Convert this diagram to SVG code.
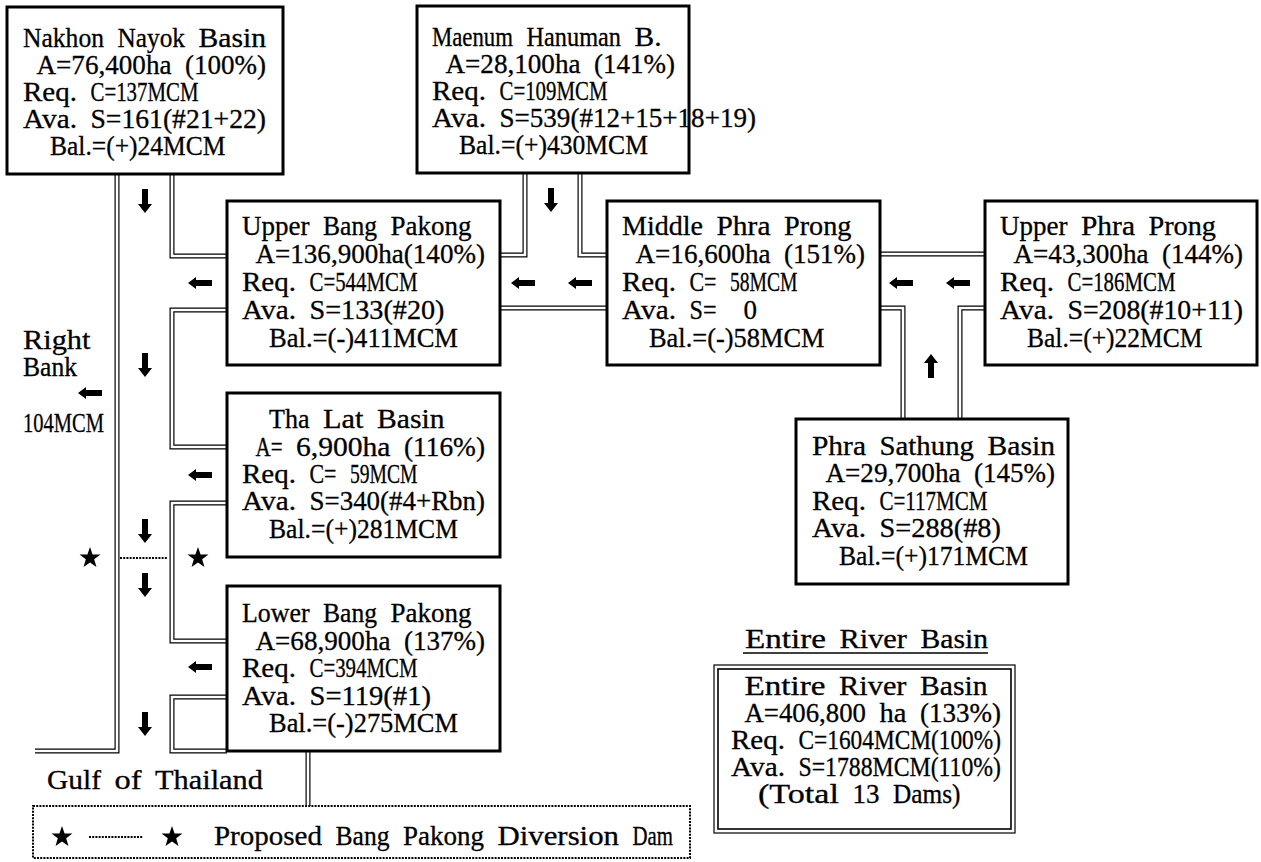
<svg xmlns="http://www.w3.org/2000/svg" width="1261" height="862" viewBox="0 0 1261 862">
<style>
.bx{fill:#fff;stroke:#000;stroke-width:3}
.ch{fill:none;stroke:#000;stroke-width:5}
.cw{fill:none;stroke:#fff;stroke-width:2.6}
.dot{fill:none;stroke:#000;stroke-width:2;stroke-dasharray:2 1.2}
text{font-family:"Liberation Serif","Times New Roman",serif;font-size:27px;fill:#000;stroke:#000;stroke-width:0.3}
</style>
<defs>
<path id="al" d="M-12,0 L-4,-6 V-3 H12 V3 H-4 V6 Z"/>
<path id="ad" d="M0,12 L-7,3 H-3 V-12 H3 V3 H7 Z"/>
<path id="au" d="M0,-12 L-7,-3 H-3 V12 H3 V-3 H7 Z"/>
<polygon id="st" points="0,-11 2.59,-3.56 10.46,-3.4 4.18,1.36 6.47,8.9 0,4.4 -6.47,8.9 -4.18,1.36 -10.46,-3.4 -2.59,-3.56"/>
</defs>
<rect width="1261" height="862" fill="#fff"/>
<g id="connectors">
<path class="ch" d="M117,175 V751 H35"/><path class="cw" d="M117,175 V751 H35"/>
<path class="ch" d="M172,175 V256 H227"/><path class="cw" d="M172,175 V256 H227"/>
<path class="ch" d="M227,310 H172 V447 H227"/><path class="cw" d="M227,310 H172 V447 H227"/>
<path class="ch" d="M227,503 H172 V641 H227"/><path class="cw" d="M227,503 H172 V641 H227"/>
<path class="ch" d="M227,697 H172 V751 H227"/><path class="cw" d="M227,697 H172 V751 H227"/>
<path class="ch" d="M525,174 V255 H500"/><path class="cw" d="M525,174 V255 H500"/>
<path class="ch" d="M580,174 V255 H607"/><path class="cw" d="M580,174 V255 H607"/>
<path class="ch" d="M500,308 H607"/><path class="cw" d="M500,308 H607"/>
<path class="ch" d="M880,254 H985"/><path class="cw" d="M880,254 H985"/>
<path class="ch" d="M880,308 H903 V419"/><path class="cw" d="M880,308 H903 V419"/>
<path class="ch" d="M985,308 H960 V419"/><path class="cw" d="M985,308 H960 V419"/>
<path class="ch" d="M308,752 V806"/><path class="cw" d="M308,752 V806"/>
<path class="dot" d="M120,558 H167"/>
<use href="#ad" x="145" y="201"/><use href="#ad" x="145" y="365"/><use href="#ad" x="145" y="531"/>
<use href="#ad" x="145" y="585"/><use href="#ad" x="145" y="724"/><use href="#ad" x="551" y="200"/>
<use href="#al" x="200" y="283"/><use href="#al" x="523" y="283"/><use href="#al" x="580" y="283"/>
<use href="#al" x="200" y="475"/><use href="#al" x="200" y="667"/><use href="#al" x="90" y="393"/>
<use href="#al" x="901" y="283"/><use href="#al" x="958" y="283"/>
<use href="#au" x="931" y="366"/>
<use href="#st" x="90" y="558"/><use href="#st" x="198" y="558"/>
</g>
<g id="nakhon-nayok">
<rect class="bx" x="7" y="7" width="276" height="167"/>
<g transform="scale(0.8,1)">
<text x="28.75" y="47" textLength="101.25" lengthAdjust="spacingAndGlyphs">Nakhon</text>
<text x="146.875" y="47" textLength="84.375" lengthAdjust="spacingAndGlyphs">Nayok</text>
<text x="248.125" y="47" textLength="84.375" lengthAdjust="spacingAndGlyphs">Basin</text>
<text x="45.625" y="74" textLength="168.75" lengthAdjust="spacingAndGlyphs">A=76,400ha</text>
<text x="231.25" y="74" textLength="101.25" lengthAdjust="spacingAndGlyphs">(100%)</text>
<text x="28.75" y="101" textLength="67.5" lengthAdjust="spacingAndGlyphs">Req.</text>
<text x="113.125" y="101" textLength="135" lengthAdjust="spacingAndGlyphs">C=137MCM</text>
<text x="28.75" y="128" textLength="67.5" lengthAdjust="spacingAndGlyphs">Ava.</text>
<text x="113.125" y="128" textLength="219.375" lengthAdjust="spacingAndGlyphs">S=161(#21+22)</text>
<text x="62.5" y="155" textLength="219.375" lengthAdjust="spacingAndGlyphs">Bal.=(+)24MCM</text>
</g>
</g>
<g id="maenum-hanuman">
<rect class="bx" x="417" y="6" width="272" height="167"/>
<g transform="scale(0.8,1)">
<text x="540" y="46" textLength="101.25" lengthAdjust="spacingAndGlyphs">Maenum</text>
<text x="658.125" y="46" textLength="118.125" lengthAdjust="spacingAndGlyphs">Hanuman</text>
<text x="793.125" y="46" textLength="33.75" lengthAdjust="spacingAndGlyphs">B.</text>
<text x="556.875" y="73" textLength="168.75" lengthAdjust="spacingAndGlyphs">A=28,100ha</text>
<text x="742.5" y="73" textLength="101.25" lengthAdjust="spacingAndGlyphs">(141%)</text>
<text x="540" y="100" textLength="67.5" lengthAdjust="spacingAndGlyphs">Req.</text>
<text x="624.375" y="100" textLength="135" lengthAdjust="spacingAndGlyphs">C=109MCM</text>
<text x="540" y="127" textLength="67.5" lengthAdjust="spacingAndGlyphs">Ava.</text>
<text x="624.375" y="127" textLength="320.625" lengthAdjust="spacingAndGlyphs">S=539(#12+15+18+19)</text>
<text x="573.75" y="154" textLength="236.25" lengthAdjust="spacingAndGlyphs">Bal.=(+)430MCM</text>
</g>
</g>
<g id="upper-bang-pakong">
<rect class="bx" x="227" y="201" width="273" height="164"/>
<g transform="scale(0.8,1)">
<text x="302.5" y="235" textLength="84.375" lengthAdjust="spacingAndGlyphs">Upper</text>
<text x="403.75" y="235" textLength="67.5" lengthAdjust="spacingAndGlyphs">Bang</text>
<text x="488.125" y="235" textLength="101.25" lengthAdjust="spacingAndGlyphs">Pakong</text>
<text x="319.375" y="263" textLength="286.875" lengthAdjust="spacingAndGlyphs">A=136,900ha(140%)</text>
<text x="302.5" y="291" textLength="67.5" lengthAdjust="spacingAndGlyphs">Req.</text>
<text x="386.875" y="291" textLength="135" lengthAdjust="spacingAndGlyphs">C=544MCM</text>
<text x="302.5" y="319" textLength="67.5" lengthAdjust="spacingAndGlyphs">Ava.</text>
<text x="386.875" y="319" textLength="168.75" lengthAdjust="spacingAndGlyphs">S=133(#20)</text>
<text x="336.25" y="347" textLength="236.25" lengthAdjust="spacingAndGlyphs">Bal.=(-)411MCM</text>
</g>
</g>
<g id="middle-phra-prong">
<rect class="bx" x="607" y="201" width="273" height="164"/>
<g transform="scale(0.8,1)">
<text x="777.5" y="235" textLength="101.25" lengthAdjust="spacingAndGlyphs">Middle</text>
<text x="895.625" y="235" textLength="67.5" lengthAdjust="spacingAndGlyphs">Phra</text>
<text x="980" y="235" textLength="84.375" lengthAdjust="spacingAndGlyphs">Prong</text>
<text x="794.375" y="263" textLength="168.75" lengthAdjust="spacingAndGlyphs">A=16,600ha</text>
<text x="980" y="263" textLength="101.25" lengthAdjust="spacingAndGlyphs">(151%)</text>
<text x="777.5" y="291" textLength="67.5" lengthAdjust="spacingAndGlyphs">Req.</text>
<text x="861.875" y="291" textLength="33.75" lengthAdjust="spacingAndGlyphs">C=</text>
<text x="912.5" y="291" textLength="84.375" lengthAdjust="spacingAndGlyphs">58MCM</text>
<text x="777.5" y="319" textLength="67.5" lengthAdjust="spacingAndGlyphs">Ava.</text>
<text x="861.875" y="319" textLength="33.75" lengthAdjust="spacingAndGlyphs">S=</text>
<text x="929.375" y="319" textLength="16.875" lengthAdjust="spacingAndGlyphs">0</text>
<text x="811.25" y="347" textLength="219.375" lengthAdjust="spacingAndGlyphs">Bal.=(-)58MCM</text>
</g>
</g>
<g id="upper-phra-prong">
<rect class="bx" x="985" y="201" width="272" height="164"/>
<g transform="scale(0.8,1)">
<text x="1250" y="235" textLength="84.375" lengthAdjust="spacingAndGlyphs">Upper</text>
<text x="1351.25" y="235" textLength="67.5" lengthAdjust="spacingAndGlyphs">Phra</text>
<text x="1435.625" y="235" textLength="84.375" lengthAdjust="spacingAndGlyphs">Prong</text>
<text x="1266.875" y="263" textLength="168.75" lengthAdjust="spacingAndGlyphs">A=43,300ha</text>
<text x="1452.5" y="263" textLength="101.25" lengthAdjust="spacingAndGlyphs">(144%)</text>
<text x="1250" y="291" textLength="67.5" lengthAdjust="spacingAndGlyphs">Req.</text>
<text x="1334.375" y="291" textLength="135" lengthAdjust="spacingAndGlyphs">C=186MCM</text>
<text x="1250" y="319" textLength="67.5" lengthAdjust="spacingAndGlyphs">Ava.</text>
<text x="1334.375" y="319" textLength="219.375" lengthAdjust="spacingAndGlyphs">S=208(#10+11)</text>
<text x="1283.75" y="347" textLength="219.375" lengthAdjust="spacingAndGlyphs">Bal.=(+)22MCM</text>
</g>
</g>
<g id="tha-lat">
<rect class="bx" x="227" y="393" width="273" height="164"/>
<g transform="scale(0.8,1)">
<text x="336.25" y="428" textLength="50.625" lengthAdjust="spacingAndGlyphs">Tha</text>
<text x="403.75" y="428" textLength="50.625" lengthAdjust="spacingAndGlyphs">Lat</text>
<text x="471.25" y="428" textLength="84.375" lengthAdjust="spacingAndGlyphs">Basin</text>
<text x="319.375" y="456" textLength="33.75" lengthAdjust="spacingAndGlyphs">A=</text>
<text x="370" y="456" textLength="118.125" lengthAdjust="spacingAndGlyphs">6,900ha</text>
<text x="505" y="456" textLength="101.25" lengthAdjust="spacingAndGlyphs">(116%)</text>
<text x="302.5" y="483" textLength="67.5" lengthAdjust="spacingAndGlyphs">Req.</text>
<text x="386.875" y="483" textLength="33.75" lengthAdjust="spacingAndGlyphs">C=</text>
<text x="437.5" y="483" textLength="84.375" lengthAdjust="spacingAndGlyphs">59MCM</text>
<text x="302.5" y="510" textLength="67.5" lengthAdjust="spacingAndGlyphs">Ava.</text>
<text x="386.875" y="510" textLength="219.375" lengthAdjust="spacingAndGlyphs">S=340(#4+Rbn)</text>
<text x="336.25" y="538" textLength="236.25" lengthAdjust="spacingAndGlyphs">Bal.=(+)281MCM</text>
</g>
</g>
<g id="lower-bang-pakong">
<rect class="bx" x="227" y="586" width="273" height="165"/>
<g transform="scale(0.8,1)">
<text x="302.5" y="622" textLength="84.375" lengthAdjust="spacingAndGlyphs">Lower</text>
<text x="403.75" y="622" textLength="67.5" lengthAdjust="spacingAndGlyphs">Bang</text>
<text x="488.125" y="622" textLength="101.25" lengthAdjust="spacingAndGlyphs">Pakong</text>
<text x="319.375" y="650" textLength="168.75" lengthAdjust="spacingAndGlyphs">A=68,900ha</text>
<text x="505" y="650" textLength="101.25" lengthAdjust="spacingAndGlyphs">(137%)</text>
<text x="302.5" y="677" textLength="67.5" lengthAdjust="spacingAndGlyphs">Req.</text>
<text x="386.875" y="677" textLength="135" lengthAdjust="spacingAndGlyphs">C=394MCM</text>
<text x="302.5" y="705" textLength="67.5" lengthAdjust="spacingAndGlyphs">Ava.</text>
<text x="386.875" y="705" textLength="151.875" lengthAdjust="spacingAndGlyphs">S=119(#1)</text>
<text x="336.25" y="732" textLength="236.25" lengthAdjust="spacingAndGlyphs">Bal.=(-)275MCM</text>
</g>
</g>
<g id="phra-sathung">
<rect class="bx" x="796" y="419" width="272" height="165"/>
<g transform="scale(0.8,1)">
<text x="1015" y="455" textLength="67.5" lengthAdjust="spacingAndGlyphs">Phra</text>
<text x="1099.375" y="455" textLength="118.125" lengthAdjust="spacingAndGlyphs">Sathung</text>
<text x="1234.375" y="455" textLength="84.375" lengthAdjust="spacingAndGlyphs">Basin</text>
<text x="1031.875" y="482" textLength="168.75" lengthAdjust="spacingAndGlyphs">A=29,700ha</text>
<text x="1217.5" y="482" textLength="101.25" lengthAdjust="spacingAndGlyphs">(145%)</text>
<text x="1015" y="510" textLength="67.5" lengthAdjust="spacingAndGlyphs">Req.</text>
<text x="1099.375" y="510" textLength="135" lengthAdjust="spacingAndGlyphs">C=117MCM</text>
<text x="1015" y="537" textLength="67.5" lengthAdjust="spacingAndGlyphs">Ava.</text>
<text x="1099.375" y="537" textLength="151.875" lengthAdjust="spacingAndGlyphs">S=288(#8)</text>
<text x="1048.75" y="565" textLength="236.25" lengthAdjust="spacingAndGlyphs">Bal.=(+)171MCM</text>
</g>
</g>
<g id="right-bank">
<g transform="scale(0.8,1)">
<text x="28.75" y="349" textLength="84.375" lengthAdjust="spacingAndGlyphs">Right</text>
<text x="28.75" y="376" textLength="67.5" lengthAdjust="spacingAndGlyphs">Bank</text>
<text x="28.75" y="432" textLength="101.25" lengthAdjust="spacingAndGlyphs">104MCM</text>
</g>
</g>
<g id="gulf">
<g transform="scale(0.8,1)">
<text x="58.75" y="789" textLength="67.5" lengthAdjust="spacingAndGlyphs">Gulf</text>
<text x="143.125" y="789" textLength="33.75" lengthAdjust="spacingAndGlyphs">of</text>
<text x="193.75" y="789" textLength="135" lengthAdjust="spacingAndGlyphs">Thailand</text>
</g>
</g>
<g id="legend">
<rect x="33" y="806" width="657" height="52" fill="#fff" stroke="#000" stroke-width="2" stroke-dasharray="2 1.2"/>
<use href="#st" x="62" y="837"/>
<path class="dot" d="M89,837 H143"/>
<use href="#st" x="172" y="837"/>
<g transform="scale(0.8,1)">
<text x="267.5" y="845" textLength="135" lengthAdjust="spacingAndGlyphs">Proposed</text>
<text x="419.375" y="845" textLength="67.5" lengthAdjust="spacingAndGlyphs">Bang</text>
<text x="503.75" y="845" textLength="101.25" lengthAdjust="spacingAndGlyphs">Pakong</text>
<text x="621.875" y="845" textLength="151.875" lengthAdjust="spacingAndGlyphs">Diversion</text>
<text x="790.625" y="845" textLength="50.625" lengthAdjust="spacingAndGlyphs">Dam</text>
</g>
</g>
<g id="entire-basin">
<path d="M743,653 H988" stroke="#000" stroke-width="1.5"/>
<rect x="714" y="665" width="301" height="168" fill="none" stroke="#000" stroke-width="1.2"/>
<rect x="718" y="669" width="293" height="160" fill="#fff" stroke="#000" stroke-width="1.6"/>
<g transform="scale(0.8,1)">
<text x="931.25" y="648" textLength="101.25" lengthAdjust="spacingAndGlyphs">Entire</text>
<text x="1049.375" y="648" textLength="84.375" lengthAdjust="spacingAndGlyphs">River</text>
<text x="1150.625" y="648" textLength="84.375" lengthAdjust="spacingAndGlyphs">Basin</text>
<text x="930.625" y="695" textLength="101.25" lengthAdjust="spacingAndGlyphs">Entire</text>
<text x="1048.75" y="695" textLength="84.375" lengthAdjust="spacingAndGlyphs">River</text>
<text x="1150" y="695" textLength="84.375" lengthAdjust="spacingAndGlyphs">Basin</text>
<text x="930.625" y="722" textLength="151.875" lengthAdjust="spacingAndGlyphs">A=406,800</text>
<text x="1099.375" y="722" textLength="33.75" lengthAdjust="spacingAndGlyphs">ha</text>
<text x="1150" y="722" textLength="101.25" lengthAdjust="spacingAndGlyphs">(133%)</text>
<text x="913.75" y="749" textLength="67.5" lengthAdjust="spacingAndGlyphs">Req.</text>
<text x="998.125" y="749" textLength="253.125" lengthAdjust="spacingAndGlyphs">C=1604MCM(100%)</text>
<text x="913.75" y="776" textLength="67.5" lengthAdjust="spacingAndGlyphs">Ava.</text>
<text x="998.125" y="776" textLength="253.125" lengthAdjust="spacingAndGlyphs">S=1788MCM(110%)</text>
<text x="947.5" y="803" textLength="101.25" lengthAdjust="spacingAndGlyphs">(Total</text>
<text x="1065.625" y="803" textLength="33.75" lengthAdjust="spacingAndGlyphs">13</text>
<text x="1116.25" y="803" textLength="84.375" lengthAdjust="spacingAndGlyphs">Dams)</text>
</g>
</g>
</svg>
